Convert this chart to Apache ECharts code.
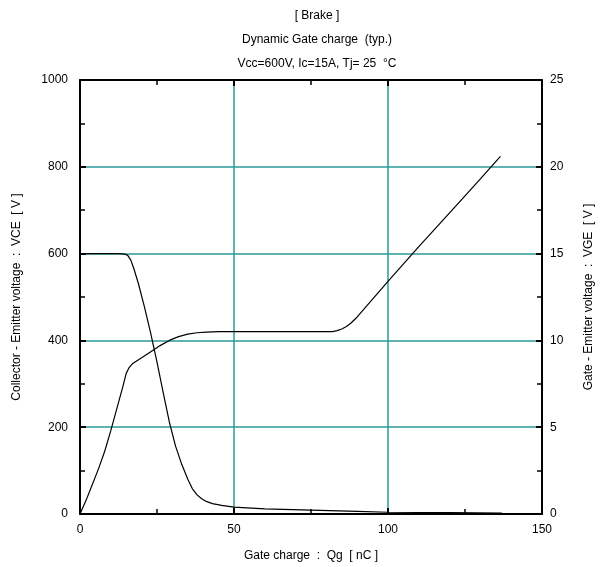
<!DOCTYPE html>
<html><head><meta charset="utf-8">
<script src="https://cdn.jsdelivr.net/npm/echarts@6/dist/echarts.min.js"></script>
<style>html,body{margin:0;padding:0;background:#fff}#c{width:603px;height:567px}</style>
</head><body><div id="c"></div>
<script>
// Collector-Emitter voltage VCE [V] vs gate charge Qg [nC]
const vceQg = [0,10,13,14.5,15.5,16.5,17.5,19,21,23,25,27,29,31,33,35,36.5,38,39.5,41,43,46,50,60,75,90,100,120,137];
const vceV  = [600,600,600,599,596,585,565,530,475,415,350,280,212,157,115,80,58,44,35,29,24,20,16,12,9,6,4,3,2];
// Gate-Emitter voltage VGE [V] vs gate charge Qg [nC]
const vgeQg = [0,2,4,6,8,10,12,14,15,16,17,18.5,20,23,26,29,32,35,38,41,45,60,80,82,83.5,85,86.5,88,90,100,110,120,130,136.5];
const vgeV  = [0,0.8,1.7,2.6,3.6,4.8,6.1,7.4,8.1,8.45,8.65,8.83,9.0,9.35,9.7,10.0,10.22,10.36,10.44,10.48,10.5,10.5,10.5,10.51,10.56,10.66,10.8,11.0,11.35,13.4,15.4,17.35,19.3,20.6];
const titleLines = ['[ Brake ]', 'Dynamic Gate charge  (typ.)', 'Vcc=600V, Ic=15A, Tj= 25  \u00B0C'];
const xName = 'Gate charge  :  Qg  [ nC ]';
const yLeftName = 'Collector - Emitter voltage  :  VCE  [ V ]';
const yRightName = 'Gate - Emitter voltage  :  VGE  [ V ]';

const FONT = 'Liberation Sans, Arial, sans-serif';
const teal = '#2a9a9a';
const chart = echarts.init(document.getElementById('c'));
const tickCommon = {show:true, inside:true, length:6, lineStyle:{color:'#000', width:2}};
const minorCommon = {show:true, splitNumber:2, length:5, lineStyle:{color:'#000', width:1.5}};
const tStyle = {fontSize:12, fontWeight:'normal', color:'#000', fontFamily:FONT};
chart.setOption({
  animation:false,
  backgroundColor:'#fff',
  textStyle:{fontFamily:FONT},
  title:[
    {text:titleLines[0], left:312, top:5, textAlign:'center', textStyle:tStyle},
    {text:titleLines[1], left:312, top:29, textAlign:'center', textStyle:tStyle},
    {text:titleLines[2], left:312, top:53, textAlign:'center', textStyle:tStyle}
  ],
  grid:{left:80, right:59, top:80, bottom:52, containLabel:false},
  xAxis:[
    {type:'value', min:0, max:150, interval:50, position:'bottom',
     name:xName, nameLocation:'middle', nameGap:36, nameTextStyle:{fontSize:12, color:'#000', fontFamily:FONT},
     axisLine:{show:true, onZero:false, lineStyle:{color:'#000', width:2}},
     axisTick:tickCommon, minorTick:minorCommon,
     axisLabel:{fontSize:12, color:'#000', margin:10, fontFamily:FONT},
     splitLine:{show:true, lineStyle:{color:teal, width:1.5}}},
    {type:'value', min:0, max:150, interval:50, position:'top',
     axisLine:{show:true, onZero:false, lineStyle:{color:'#000', width:2}},
     axisTick:tickCommon, minorTick:minorCommon,
     axisLabel:{show:false}, splitLine:{show:false}}
  ],
  yAxis:[
    {type:'value', min:0, max:1000, interval:200, position:'left',
     name:yLeftName, nameLocation:'middle', nameGap:57, nameRotate:90,
     nameTextStyle:{fontSize:12, color:'#000', fontFamily:FONT},
     axisLine:{show:true, onZero:false, lineStyle:{color:'#000', width:2}},
     axisTick:tickCommon, minorTick:minorCommon,
     axisLabel:{fontSize:12, color:'#000', margin:12, fontFamily:FONT, formatter:v=>String(v)},
     splitLine:{show:true, lineStyle:{color:teal, width:1.5}}},
    {type:'value', min:0, max:25, interval:5, position:'right',
     name:yRightName, nameLocation:'middle', nameGap:41, nameRotate:90,
     nameTextStyle:{fontSize:12, color:'#000', fontFamily:FONT},
     axisLine:{show:true, onZero:false, lineStyle:{color:'#000', width:2}},
     axisTick:tickCommon, minorTick:minorCommon,
     axisLabel:{fontSize:12, color:'#000', margin:8, fontFamily:FONT},
     splitLine:{show:false}}
  ],
  series:[
    {type:'line', xAxisIndex:0, yAxisIndex:0, data:vceQg.map((q,i)=>[q,vceV[i]]),
     showSymbol:false, smooth:false, lineStyle:{color:'#000', width:1.2}},
    {type:'line', xAxisIndex:0, yAxisIndex:1, data:vgeQg.map((q,i)=>[q,vgeV[i]]),
     showSymbol:false, smooth:false, lineStyle:{color:'#000', width:1.2}}
  ]
});
</script></body></html>
